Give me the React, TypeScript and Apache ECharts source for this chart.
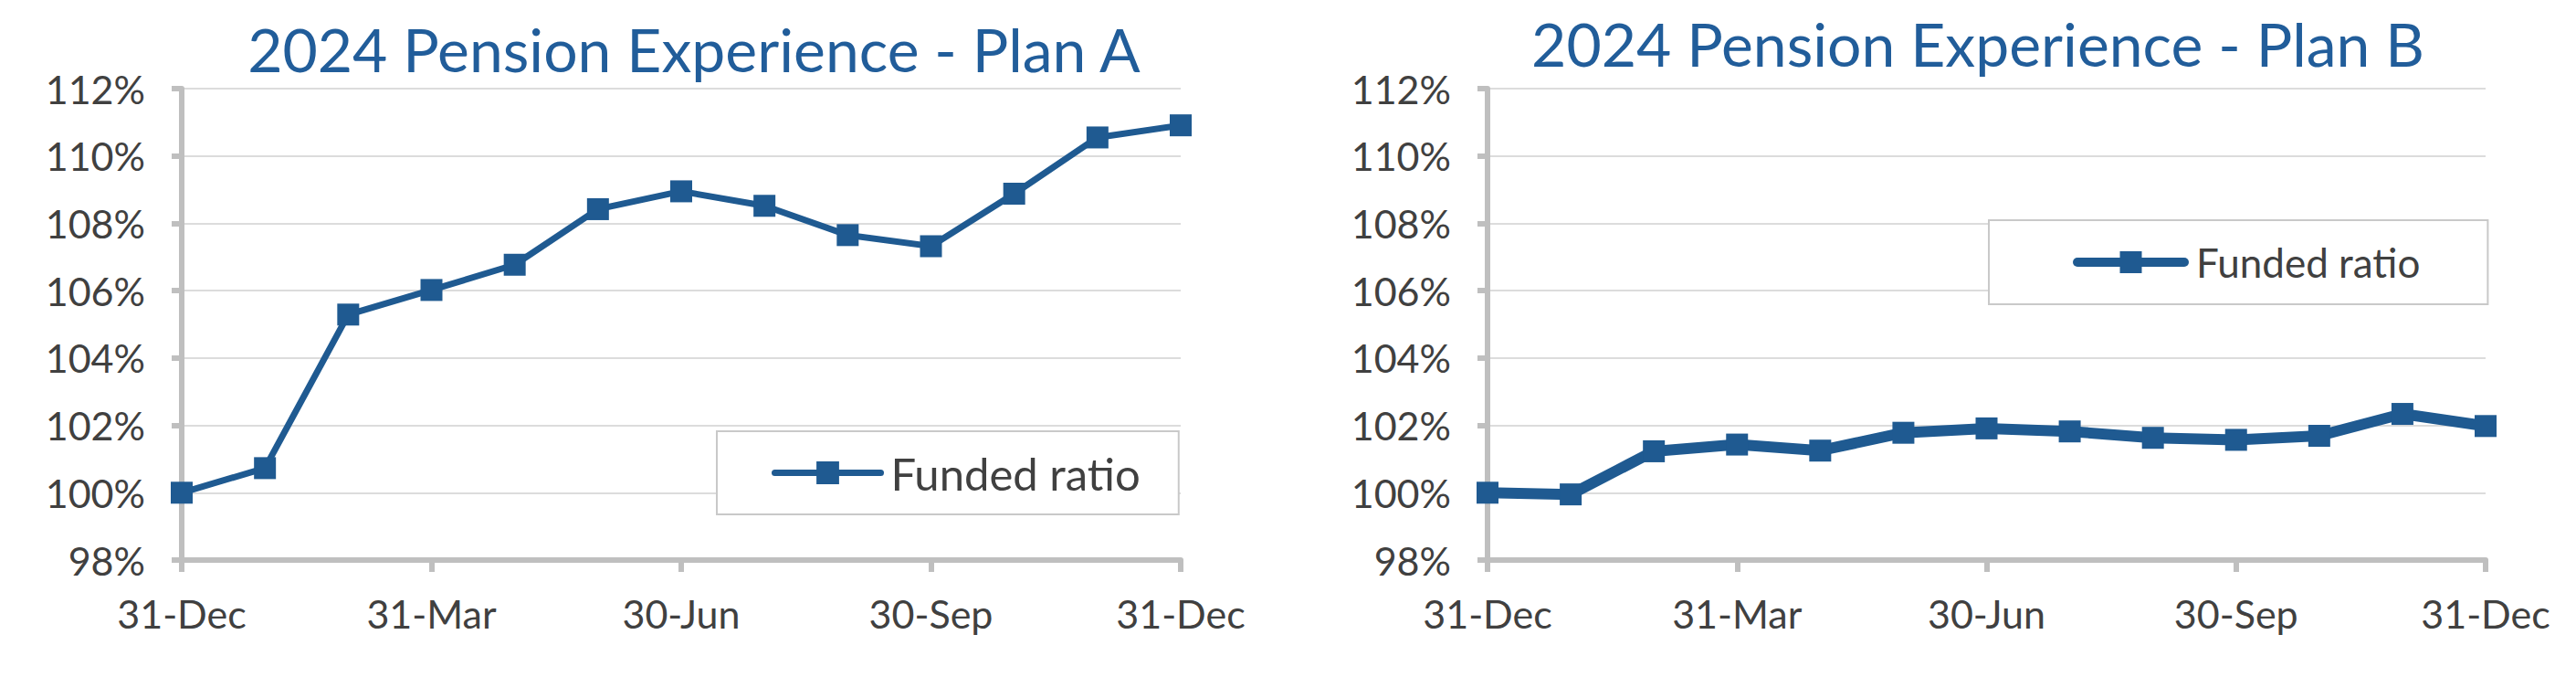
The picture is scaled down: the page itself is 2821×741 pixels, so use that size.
import React, { useEffect, useRef } from "react";
import * as echarts from "echarts";

const categories = [
  "31-Dec", "31-Jan", "29-Feb", "31-Mar", "30-Apr", "31-May", "30-Jun",
  "31-Jul", "31-Aug", "30-Sep", "31-Oct", "30-Nov", "31-Dec",
];
const planAValues = [100.0, 100.73, 105.29, 106.02, 106.77, 108.42, 108.95, 108.52, 107.65, 107.32, 108.88, 110.55, 110.91];
const planBValues = [100.0, 99.95, 101.23, 101.43, 101.25, 101.78, 101.91, 101.82, 101.63, 101.57, 101.69, 102.34, 101.98];
const yTickValues = [98, 100, 102, 104, 106, 108, 110, 112];
const yTickLabels = ["98%", "100%", "102%", "104%", "106%", "108%", "110%", "112%"];
const seriesName = "Funded ratio";
const titleA = "2024 Pension Experience - Plan A";
const titleB = "2024 Pension Experience - Plan B";

const LINE = "#1F5A91";
const TITLE = "#215D9A";
const TEXT = "#404040";
const AXIS = "#BFBFBF";
const GRID = "#DCDCDC";
const FONT = "Lato, 'Noto Sans', sans-serif";

type Cfg = {
  title: string;
  titleX: number;
  titleY: number;
  values: number[];
  gridLeft: number;
  gridRight: number;
  lineWidth: number;
  legendLeft: number;
  legendTop: number;
  legendPadding: number[];
  legendFont: number;
  legendItemWidth: number;
  legendItemHeight: number;
  legendLineWidth: number;
  legendTextPad: number;
};

function makeOption(c: Cfg): any {
  return {
    animation: false,
    backgroundColor: "#ffffff",
    graphic: [
      {
        type: "text",
        x: c.titleX,
        y: c.titleY,
        style: {
          text: c.title,
          fill: TITLE,
          fontSize: 66,
          fontFamily: FONT,
          textAlign: "center",
          textVerticalAlign: "middle",
        },
      },
    ],
    grid: { left: c.gridLeft, right: c.gridRight, top: 97, bottom: 128, containLabel: false },
    legend: {
      show: true,
      data: [seriesName],
      left: c.legendLeft,
      top: c.legendTop,
      orient: "horizontal",
      padding: c.legendPadding,
      backgroundColor: "#ffffff",
      borderColor: "#C9C9C9",
      borderWidth: 2,
      itemWidth: c.legendItemWidth,
      itemHeight: c.legendItemHeight,
      lineStyle: { width: c.legendLineWidth, cap: "round" },
      selectedMode: false,
      textStyle: {
        fontFamily: FONT,
        fontSize: c.legendFont,
        color: TEXT,
        padding: [0, 0, 0, c.legendTextPad],
      },
    },
    xAxis: {
      type: "category",
      data: categories,
      boundaryGap: false,
      axisLine: { show: true, lineStyle: { color: AXIS, width: 6 } },
      axisTick: { show: true, interval: 2, length: 13, lineStyle: { color: AXIS, width: 6 } },
      axisLabel: {
        interval: 2,
        margin: 37,
        fontFamily: FONT,
        fontSize: 43,
        color: TEXT,
      },
      splitLine: { show: false },
    },
    yAxis: {
      type: "value",
      min: yTickValues[0],
      max: yTickValues[yTickValues.length - 1],
      interval: 2,
      axisLine: { show: true, lineStyle: { color: AXIS, width: 6 } },
      axisTick: { show: true, length: 11, lineStyle: { color: AXIS, width: 6 } },
      axisLabel: {
        margin: 40,
        fontFamily: FONT,
        fontSize: 43,
        color: TEXT,
        formatter: (v: number) => {
          const i = yTickValues.indexOf(Math.round(v));
          return i >= 0 ? yTickLabels[i] : "";
        },
      },
      splitLine: { show: true, lineStyle: { color: GRID, width: 2 } },
    },
    series: [
      {
        name: seriesName,
        type: "line",
        data: c.values,
        symbol: "rect",
        symbolSize: 24,
        showAllSymbol: true,
        itemStyle: { color: LINE },
        lineStyle: { color: LINE, width: c.lineWidth },
        z: 3,
      },
    ],
  };
}

function Chart({ cfg, left, width }: { cfg: Cfg; left: number; width: number }) {
  const ref = useRef<HTMLDivElement>(null);
  useEffect(() => {
    if (!ref.current) return;
    const chart = echarts.init(ref.current, undefined, { renderer: "svg" });
    chart.setOption(makeOption(cfg));
    return () => chart.dispose();
  }, []);
  return (
    <div
      ref={ref}
      style={{ position: "absolute", left, top: 0, width, height: 741 }}
    />
  );
}

const cfgA: Cfg = {
  title: titleA,
  titleX: 760,
  titleY: 53,
  values: planAValues,
  gridLeft: 199,
  gridRight: 117,
  lineWidth: 7,
  legendLeft: 785,
  legendTop: 472,
  legendPadding: [21, 42, 21, 60],
  legendFont: 49,
  legendItemWidth: 116,
  legendItemHeight: 31,
  legendLineWidth: 7,
  legendTextPad: 6,
};

const cfgB: Cfg = {
  title: titleB,
  titleX: 2166 - 1410,
  titleY: 47,
  values: planBValues,
  gridLeft: 219,
  gridRight: 99,
  lineWidth: 12,
  legendLeft: 768,
  legendTop: 241,
  legendPadding: [24, 74, 24, 92],
  legendFont: 44,
  legendItemWidth: 117,
  legendItemHeight: 30,
  legendLineWidth: 10,
  legendTextPad: 8,
};

export default function App() {
  return (
    <div
      style={{
        position: "fixed",
        left: 0,
        top: 0,
        width: 2821,
        height: 741,
        background: "#ffffff",
        overflow: "hidden",
      }}
    >
      <Chart cfg={cfgA} left={0} width={1410} />
      <Chart cfg={cfgB} left={1410} width={1411} />
    </div>
  );
}
